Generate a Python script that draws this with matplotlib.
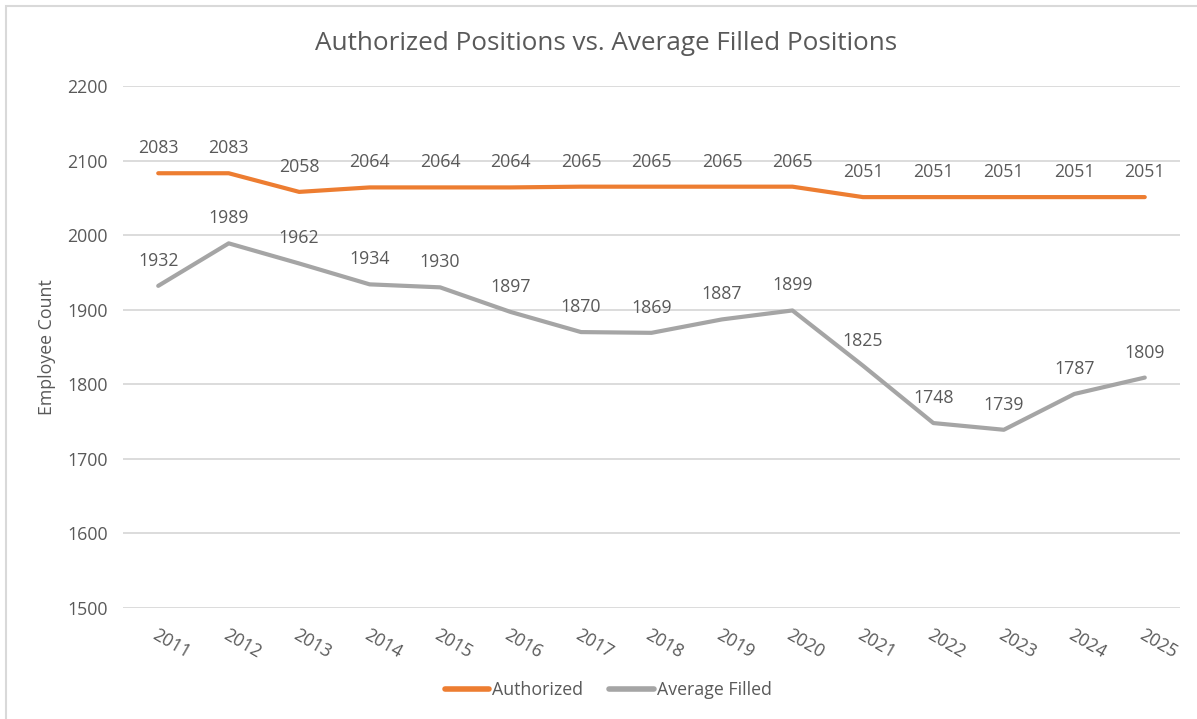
import matplotlib
matplotlib.use("Agg")
import matplotlib.pyplot as plt
from matplotlib.patches import Rectangle

years = ["2011", "2012", "2013", "2014", "2015", "2016", "2017", "2018",
         "2019", "2020", "2021", "2022", "2023", "2024", "2025"]
authorized = [2083, 2083, 2058, 2064, 2064, 2064, 2065, 2065, 2065, 2065,
              2051, 2051, 2051, 2051, 2051]
avg_filled = [1932, 1989, 1962, 1934, 1930, 1897, 1870, 1869, 1887, 1899,
              1825, 1748, 1739, 1787, 1809]
y_ticks = [1500, 1600, 1700, 1800, 1900, 2000, 2100, 2200]

ORANGE = "#ED7D31"
GRAY = "#A5A5A5"
TEXT = "#595959"
GRID = "#D9D9D9"
FS = 12.8

plt.rcParams['font.family'] = ['Open Sans', 'DejaVu Sans']

W, H = 1197, 719
fig = plt.figure(figsize=(W / 100, H / 100), dpi=100)
fig.patch.set_facecolor("white")

# outer chart border (only top/left visible in reference)
fig.patches.append(Rectangle((6 / W, -0.05), 1.2, 1 - 6 / H + 0.05,
                             transform=fig.transFigure, fill=False,
                             edgecolor=GRID, linewidth=1.5))

left, right = 123 / W, 1180 / W
bottom, top = 1 - 608 / H, 1 - 86 / H
ax = fig.add_axes([left, bottom, right - left, top - bottom])

x = list(range(len(years)))
ax.plot(x, authorized, color=ORANGE, linewidth=3, solid_capstyle='round',
        solid_joinstyle='round', label="Authorized", zorder=3)
ax.plot(x, avg_filled, color=GRAY, linewidth=3, solid_capstyle='round',
        solid_joinstyle='round', label="Average Filled", zorder=3)

for xi, v in zip(x, authorized):
    ax.annotate(f"{v}", (xi, v), xytext=(0, 25), textcoords="offset pixels",
                ha="center", va="center", fontsize=FS, color=TEXT)
for xi, v in zip(x, avg_filled):
    ax.annotate(f"{v}", (xi, v), xytext=(0, 25), textcoords="offset pixels",
                ha="center", va="center", fontsize=FS, color=TEXT)

ax.set_xlim(-0.5, len(years) - 0.5)
ax.set_ylim(1500, 2200)
ax.set_yticks(y_ticks)
ax.set_yticklabels([str(t) for t in y_ticks])
ax.set_xticks(x)
ax.set_xticklabels(years, rotation=-30, ha="left", rotation_mode="anchor")

ax.grid(axis="y", color=GRID, linewidth=1.3)
ax.set_axisbelow(True)
for s in ax.spines.values():
    s.set_visible(False)
ax.tick_params(axis="both", length=0, colors=TEXT, labelsize=FS)
ax.tick_params(axis="y", pad=11)
ax.tick_params(axis="x", pad=13)

fig.text(47 / W, 1 - 347 / H, "Employee Count", rotation=90,
         ha="center", va="center", fontsize=FS, color=TEXT)

fig.text(606 / W, 1 - 44 / H, "Authorized Positions vs. Average Filled Positions",
         ha="center", va="center", fontsize=18.8, color=TEXT)

leg = fig.legend(loc="center", bbox_to_anchor=(608 / W, 1 - 690 / H), ncol=2,
                 frameon=False, fontsize=FS, handlelength=2.5,
                 handletextpad=0.15, columnspacing=1.5, labelcolor=TEXT)
for line in leg.get_lines():
    line.set_linewidth(4)
    line.set_solid_capstyle('round')

fig.savefig("out.png", dpi=100, facecolor="white")
